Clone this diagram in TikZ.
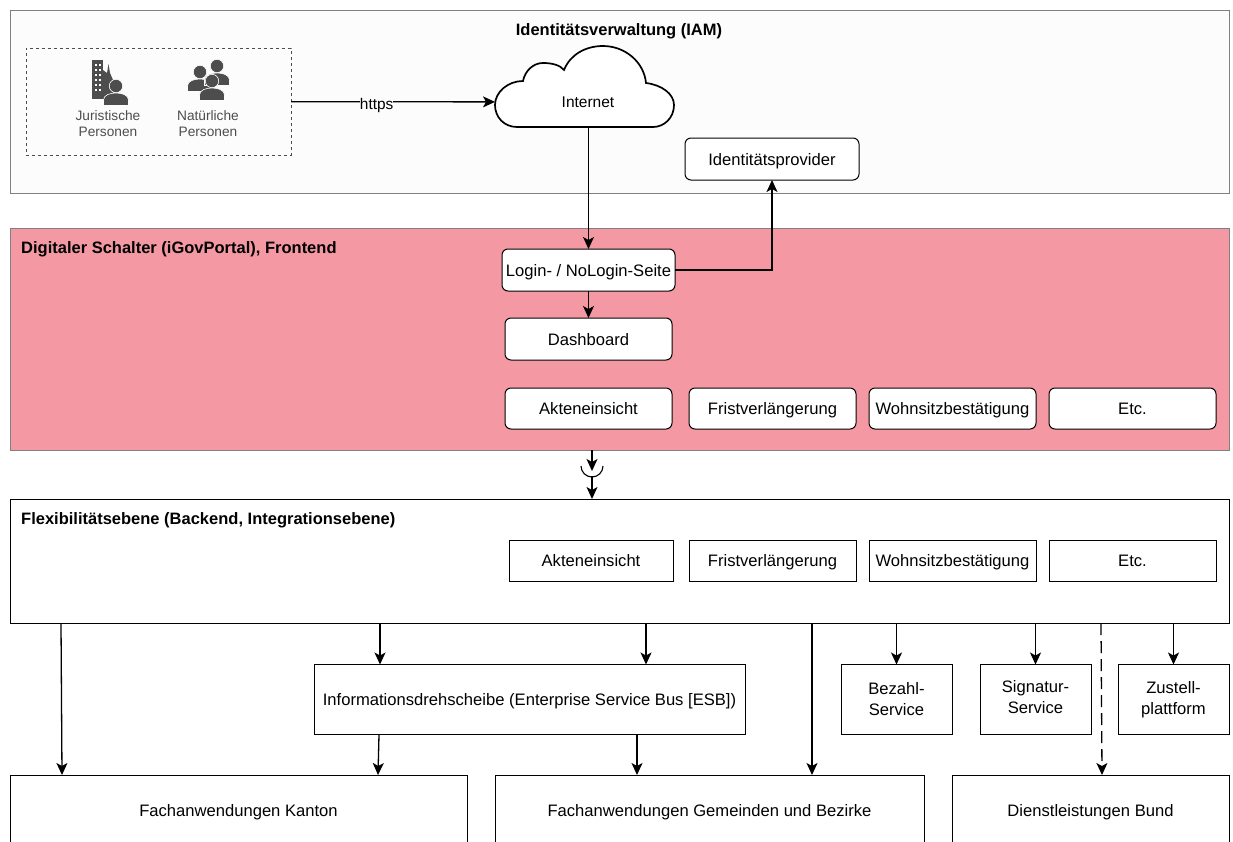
\documentclass[tikz,border=0pt]{standalone}
\usepackage{fontspec}
\setmainfont{Liberation Sans}
\usepackage[svgnames]{xcolor}
\usetikzlibrary{arrows.meta}
\definecolor{iamfill}{HTML}{FCFCFC}
\definecolor{portalfill}{HTML}{F499A3}
\definecolor{layerline}{HTML}{808080}
\definecolor{iconfill}{HTML}{4D4D4D}
\tikzset{
  layer/.style={draw=layerline, line width=1pt, inner sep=0pt, outer sep=0pt},
  plainbox/.style={draw=black, line width=1pt, fill=white, inner sep=0pt, outer sep=0pt,
    align=center, font=\fontsize{16.6}{21}\selectfont},
  roundbox/.style={plainbox, rounded corners=6pt},
  oneline/.style={text height=12pt, text depth=0pt},
  title/.style={inner sep=0pt, text height=12pt, text depth=0pt, font=\bfseries\fontsize{16.5}{19}\selectfont},
  caption/.style={inner sep=0pt, align=center, text=iconfill, font=\fontsize{13.7}{16}\selectfont},
  conn/.style={line width=1.3pt, -{Stealth[length=12pt, width=11pt, inset=3pt]}},
  personicon/.pic={
    \fill[iconfill, draw=iamfill, line width=.6pt] (-12.5,19.5) -- (-12.5,14)
      .. controls (-12.5,9) and (-6,7) .. (0,7)
      .. controls (6,7) and (12.5,9) .. (12.5,14) -- (12.5,19.5) -- cycle;
    \fill[iconfill, draw=iamfill, line width=.6pt] (0,0) circle (6.7);
  },
}
\begin{document}
\begin{tikzpicture}[x=1pt, y=-1pt]
\useasboundingbox (0,0) rectangle (1233,841);
% layers
\node[layer, fill=iamfill, minimum width=1219pt, minimum height=183pt] (iam) at (619.5,101.5) {};
\node[layer, fill=portalfill, minimum width=1219pt, minimum height=222pt] (portal) at (619.5,339) {};
\node[plainbox, minimum width=1219pt, minimum height=124pt] (flex) at (619.5,561) {};
\node[title] (iamtitle) at (619,29) {Identitätsverwaltung (IAM)};
\node[title, anchor=west] (portaltitle) at (21,247) {Digitaler Schalter (iGovPortal), Frontend};
\node[title, anchor=west] (flextitle) at (21,518) {Flexibilitätsebene (Backend, Integrationsebene)};
% users
\node[draw=black!70, dashed, line width=1pt, inner sep=0pt, outer sep=0pt,
  minimum width=265pt, minimum height=107pt] (users) at (158.5,101.5) {};
\fill[iconfill] (92,60) rectangle (103,99);
\fill[iconfill] (103,70) -- (107,73) -- (108.5,64) -- (110,73) -- (113,80) -- (113,99) -- (103,99) -- cycle;
\foreach \wx in {95,99}
  \foreach \wy in {64,69,74,79,84,89}
    \fill[white] (\wx,\wy) rectangle +(2.4,2.4);
\pic at (116,86) {personicon};
\pic at (200,72) {personicon};
\pic at (217,66) {personicon};
\pic at (212,81) {personicon};
\node[caption] (juristic) at (108,124) {Juristische\\Personen};
\node[caption] (natural) at (208,124) {Natürliche\\Personen};
% cloud
\draw[line width=1.7pt, fill=white] (517,127)
  .. controls (504,127) and (495,117) .. (495,105)
  .. controls (495,92) and (508,81) .. (523,81)
  .. controls (525,71) and (533,63) .. (543,63)
  .. controls (552,63) and (560,65) .. (564,70)
  .. controls (570,55) and (585,46) .. (603,46)
  .. controls (625,46) and (644,62) .. (646,83)
  .. controls (662,85) and (674,94) .. (674,105)
  .. controls (674,118) and (664,127) .. (653,127) -- cycle;
\node[inner sep=0pt, outer sep=0pt, minimum width=179pt, minimum height=52pt,
  font=\fontsize{15.5}{18}\selectfont] (internet) at (584.5,102) {\hspace*{7pt}Internet};
% portal boxes
\node[roundbox, oneline, minimum width=174pt, minimum height=42pt] (idp) at (772,159) {Identitätsprovider};
\node[roundbox, oneline, minimum width=173pt, minimum height=42pt] (login) at (588.5,270) {Login- / NoLogin-Seite};
\node[roundbox, oneline, minimum width=167pt, minimum height=42pt] (dashboard) at (588.5,339) {Dashboard};
\foreach \name/\cx/\label in {
  fileview/588.5/Akteneinsicht,
  extension/772.5/Fristverlängerung,
  residence/952.5/Wohnsitzbestätigung,
  etc/1132.5/Etc.}
  \node[roundbox, oneline, minimum width=167pt, minimum height=41pt] (\name) at (\cx,408.5) {\label};
% backend boxes
\node[plainbox, oneline, minimum width=164pt, minimum height=41pt] (backfile) at (591,560.5) {Akteneinsicht};
\foreach \name/\cx/\label in {
  backext/772.5/Fristverlängerung,
  backres/952.5/Wohnsitzbestätigung,
  backetc/1132.5/Etc.}
  \node[plainbox, oneline, minimum width=167pt, minimum height=41pt] (\name) at (\cx,560.5) {\label};
% services
\node[plainbox, oneline, minimum width=431pt, minimum height=70pt] (esb) at (529.5,699.5)
  {Informationsdrehscheibe (Enterprise Service Bus [ESB])};
\node[plainbox, minimum width=111pt, minimum height=70pt] (bezahl) at (896.5,699.5) {Bezahl-\\Service};
\node[plainbox, minimum width=111pt, minimum height=70pt] (signatur) at (1035.5,699.5) {\raisebox{6pt}{Signatur-}\\\raisebox{6pt}{Service}};
\node[plainbox, minimum width=111pt, minimum height=70pt] (zustell) at (1173.5,699.5) {Zustell-\\plattform};
% applications
\node[plainbox, oneline, minimum width=457pt, minimum height=70pt] (kanton) at (238.5,810) {Fachanwendungen Kanton};
\node[plainbox, oneline, minimum width=429pt, minimum height=70pt] (gemeinden) at (709.5,810) {Fachanwendungen Gemeinden und Bezirke};
\node[plainbox, oneline, minimum width=277pt, minimum height=70pt] (bund) at (1090.5,810) {Dienstleistungen Bund};
% connectors
\draw[conn] (users) -- (internet) node[pos=.42, yshift=-4pt, fill=iamfill, inner sep=0pt, font=\fontsize{15.4}{17}\selectfont] (httpslabel) {https};
\draw[conn] (internet.south -| login.north) -- (login);
\draw[conn] (login) -| (idp);
\draw[conn] (login) -- (dashboard);
\coordinate (socket) at (592,476);
\draw[conn] (portal.south -| socket) -- (592,471);
\draw[line width=1.1pt] (581,466) arc[start angle=180, end angle=360, radius=11pt];
\draw[conn] (socket) -- (flex.north -| socket);
\draw[conn] (61,0 |- flex.south) -- (62,0 |- kanton.north);
\draw[conn] (380,0 |- flex.south) -- (380,0 |- esb.north);
\draw[conn] (646,0 |- flex.south) -- (646,0 |- esb.north);
\draw[conn] (812,0 |- flex.south) -- (812,0 |- gemeinden.north);
\foreach \target in {bezahl,signatur,zustell}
  \draw[conn] (flex.south -| \target.north) -- (\target);
\draw[conn, dash pattern=on 12pt off 6pt] (1101,0 |- flex.south) -- (1102,0 |- bund.north);
\draw[conn] (379,0 |- esb.south) -- (378,0 |- kanton.north);
\draw[conn] (637,0 |- esb.south) -- (637,0 |- gemeinden.north);
\end{tikzpicture}
\end{document}
